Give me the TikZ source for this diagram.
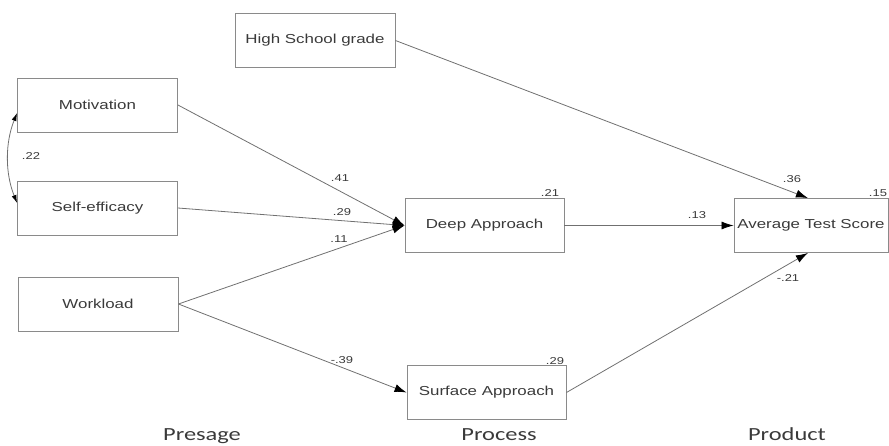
\documentclass[tikz,border=0pt]{standalone}
\usepackage{fontspec}
\usepackage{graphicx}
\setmainfont{Liberation Sans}
\newfontfamily\carl{Carlito}
\usetikzlibrary{arrows.meta,calc}
\definecolor{txt}{HTML}{3A3A3A}
\definecolor{edge}{HTML}{8A8A8A}
\definecolor{conn}{HTML}{707070}
\newcommand\wtxt[1]{\scalebox{1.3}[1]{#1}}
\tikzset{
  box/.style={draw=edge, line width=0.9pt, minimum width=160pt, minimum height=54pt,
    inner sep=0pt, text=txt, font=\fontsize{13}{15}\selectfont},
  coef/.style={text=txt, inner sep=0pt, font=\fontsize{10}{12}\selectfont},
  stage/.style={text=txt, inner sep=0pt, anchor=base, font=\carl\fontsize{18.5}{22}\selectfont},
  path/.style={draw=conn, line width=0.8pt, -{Latex[length=12pt,width=8pt,color=black]}},
  corr/.style={draw=conn, line width=0.8pt, {Latex[length=8pt,width=5pt,color=black]}-{Latex[length=8pt,width=5pt,color=black]}}
}
\begin{document}
\begin{tikzpicture}[x=1pt,y=-1pt]
\useasboundingbox (0,0) rectangle (889,445);
\node[box] (hs) at (315,40.5) {\wtxt{High School grade}};
\node[box] (mot) at (97.5,105) {\wtxt{Motivation}};
\node[box] (self) at (97.5,208) {\wtxt{Self-efficacy}};
\node[box] (work) at (98,304) {\wtxt{Workload}};
\node[box, minimum width=159pt] (deep) at (484.5,225.5) {\wtxt{Deep Approach}};
\node[box, minimum width=159pt] (surf) at (486.5,392.5) {\wtxt{Surface Approach}};
\node[box, minimum width=154pt] (avg) at (811,225.5) {\wtxt{Average Test Score}};
\coordinate (avgtop) at ($(avg.north west)!0.48!(avg.north east)$);
\coordinate (avgbot) at ($(avg.south west)!0.48!(avg.south east)$);
\coordinate (motc) at ($(mot.west)+(0,8)$);
\coordinate (selfc) at ($(self.west)+(0,-5)$);
% connectors
\draw[path] (mot.east) -- (deep.west);
\draw[path] (self.east) -- (deep.west);
\draw[path] (work.east) -- (deep.west);
\draw[path] (work.east) -- (surf.west);
\draw[path] (hs.east) -- (avgtop);
\draw[path] (deep.east) -- (avg.west);
\draw[path] (surf.east) -- (avgbot);
\draw[corr] (motc) .. controls +(-12,30) and +(-12,-30) .. (selfc);
% coefficients
\node[coef] (c41) at (340,178) {\wtxt{.41}};
\node[coef] (c29) at (342,212) {\wtxt{.29}};
\node[coef] (c11) at (339,239) {\wtxt{.11}};
\node[coef] (c39) at (342,360) {\wtxt{-.39}};
\node[coef] (c36) at (792,179) {\wtxt{.36}};
\node[coef] (c13) at (697,215) {\wtxt{.13}};
\node[coef] (c21n) at (788,278) {\wtxt{-.21}};
\node[coef] (c15) at (878,193) {\wtxt{.15}};
\node[coef] (c21) at (550,193) {\wtxt{.21}};
\node[coef] (c29s) at (555,361) {\wtxt{.29}};
\node[coef] (c22) at (31,156) {\wtxt{.22}};
% stages
\node[stage] (pre) at (202,440) {\scalebox{1.32}[1]{Presage}};
\node[stage] (pro) at (499,440) {\scalebox{1.32}[1]{Process}};
\node[stage] (prod) at (787,440) {\scalebox{1.32}[1]{Product}};
\end{tikzpicture}
\end{document}
